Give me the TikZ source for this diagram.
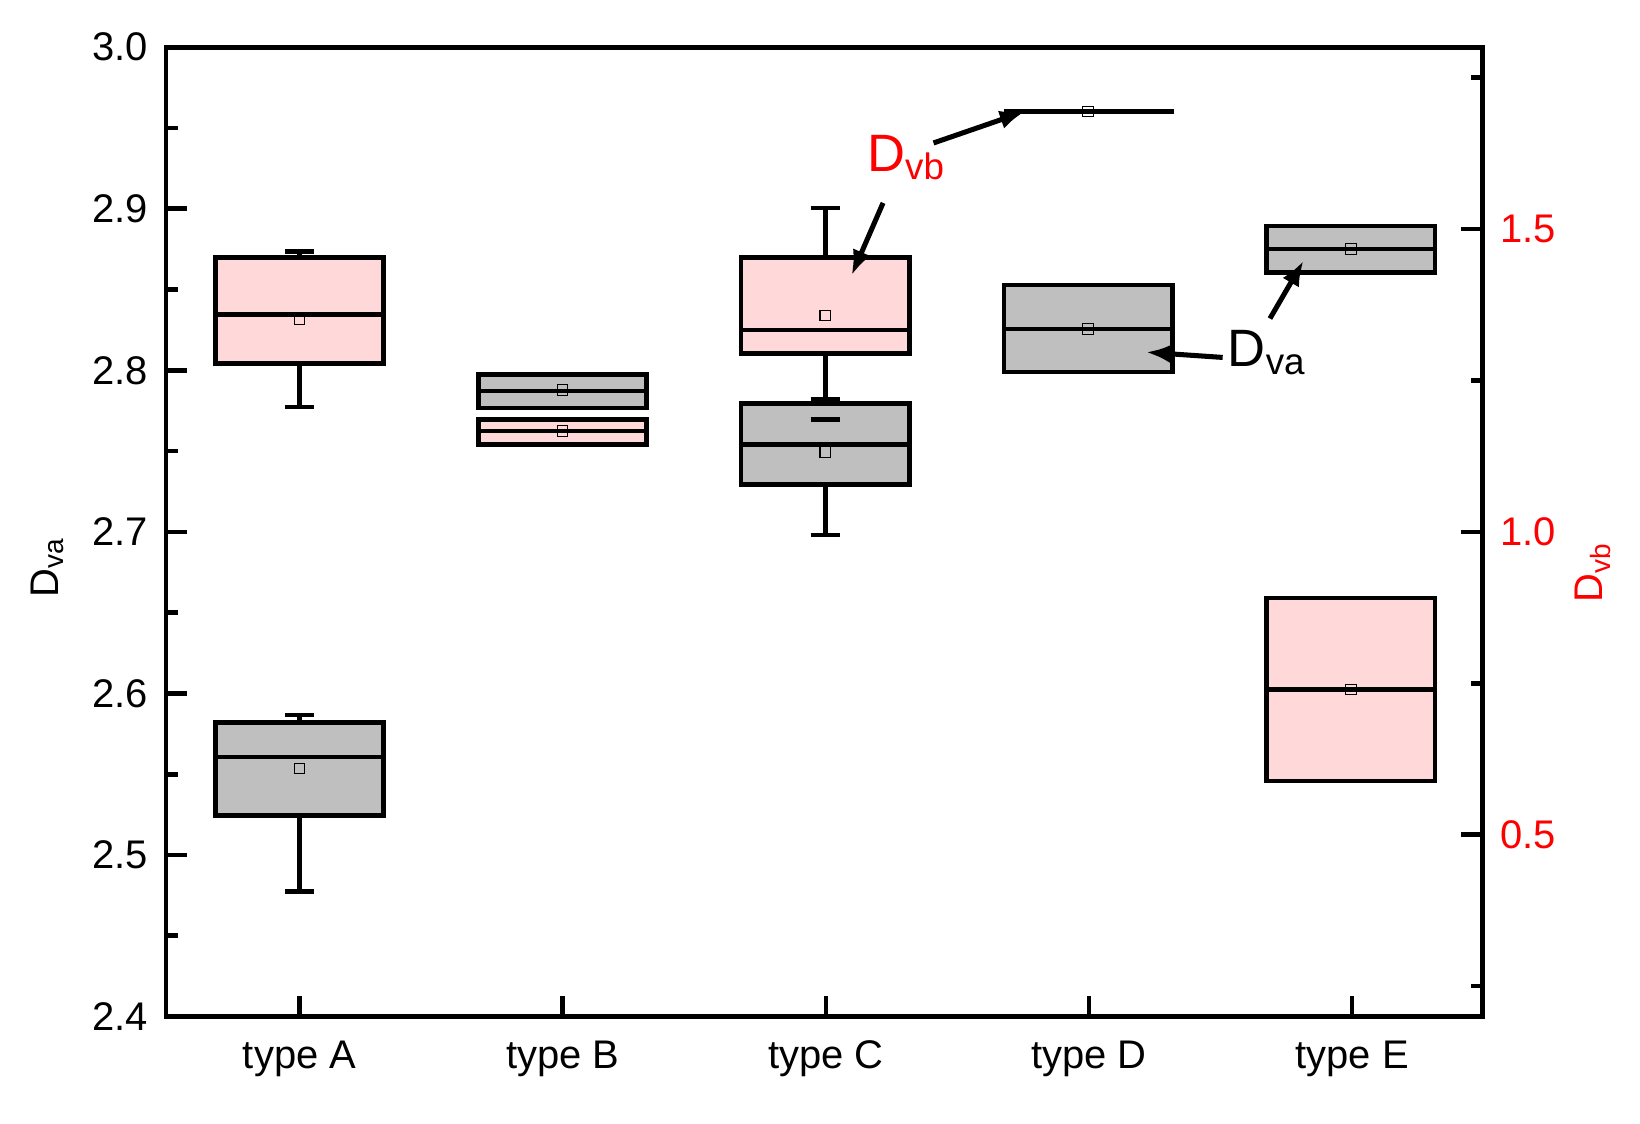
\documentclass[tikz,border=0pt]{standalone}
\usepackage{fontspec}
\setmainfont{Liberation Sans}
\usetikzlibrary{arrows.meta}

% Define plot styles
\tikzset{
  axis/.style={line width=2.2pt},
  box/.style={draw,line width=2.2pt},
  va/.style={box,fill=gray!50},
  vb/.style={box,fill=red!15},
  whisk/.style={line width=2.2pt},
  mean/.style={draw,line width=0.5pt,minimum size=5pt,inner sep=0pt},
  pointer/.style={line width=2.4pt,-{Latex[length=12pt,width=9pt]}},
  ticklab/.style={font=\fontsize{19}{22}\selectfont},
  note/.style={font=\fontsize{25}{28}\selectfont}
}

% box: center, top, bottom, median, mean, style
\newcommand{\boxplot}[6]{
  \draw[#6] (#1-80,#2) rectangle (#1+80,#3);
  \draw[whisk] (#1-80,#4) -- (#1+80,#4);
  \node[mean] at (#1,#5) {};
}
% whisker: center, from, to
\newcommand{\whisker}[3]{
  \draw[whisk] (#1,#2) -- (#1,#3);
  \draw[whisk] (#1-14,#3) -- (#1+14,#3);
}

\begin{document}
\begin{tikzpicture}[x=0.5pt,y=-0.5pt]
\useasboundingbox (0,0) rectangle (1560,1069);

% frame
\draw[axis] (158,45) rectangle (1410,967);

% left axis
\foreach \v [count=\i from 0] in {2.4,2.5,2.6,2.7,2.8,2.9,3.0}{
  \draw[axis] (158,967-153.7*\i) -- ++(20,0);
  \node[ticklab,anchor=east] at (148,967-153.7*\i) {\v};
}
\foreach \i in {0,...,5}
  \draw[axis] (158,890.15-153.7*\i) -- ++(11,0);

% right axis
\foreach \v/\yy in {0.5/794,1.0/506,1.5/218}{
  \draw[axis] (1410,\yy) -- ++(-20,0);
  \node[ticklab,text=red,anchor=west] at (1420,\yy) {\v};
}
\foreach \yy in {74,362,650,938}
  \draw[axis] (1410,\yy) -- ++(-11,0);

% categories
\foreach \t [count=\i from 0] in {A,B,C,D,E}{
  \draw[axis] (285+250.3*\i,967) -- ++(0,-20);
  \node[ticklab] at (285+250.3*\i,1007) {type \t};
}

\node[ticklab,rotate=90] (ylab) at (45,540) {D\textsubscript{va}};
\node[ticklab,rotate=90,text=red] (ylabr) at (1515,545) {D\textsubscript{vb}};

% type A
\whisker{285}{245}{239}
\whisker{285}{346}{387}
\boxplot{285}{245}{346}{299}{304}{vb}
\whisker{285}{687}{680}
\whisker{285}{776}{848}
\boxplot{285}{687}{776}{720}{731}{va}

% type B
\boxplot{535}{356}{388}{372}{371}{va}
\boxplot{535}{399}{423}{410}{410}{vb}

% type C
\whisker{785}{245}{198}
\whisker{785}{336}{380}
\boxplot{785}{245}{336}{314}{300}{vb}
\whisker{785}{461}{509}
\boxplot{785}{384}{461}{423}{430}{va}
\draw[whisk] (771,399) -- (799,399);

% type D
\draw[whisk] (955,106) -- (1117,106);
\node[mean] at (1035,106) {};
\boxplot{1035}{271}{354}{313}{313}{va}

% type E
\boxplot{1285}{215}{259}{237}{237}{va}
\boxplot{1285}{569}{743}{656}{656}{vb}

% annotations
\node[note,text=red] (dvb) at (862,150) {D\textsubscript{vb}};
\node[note] (dva) at (1205,335) {D\textsubscript{va}};
\coordinate (dline) at (975,106);
\coordinate (cpink) at (810,262);
\coordinate (dgray) at (1090,335);
\coordinate (egray) at (1240,248);
\draw[pointer] (888,136) -- (dline);
\draw[pointer] (840,193) -- (cpink);
\draw[pointer] (1163,340) -- (dgray);
\draw[pointer] (1208,303) -- (egray);
\end{tikzpicture}
\end{document}
